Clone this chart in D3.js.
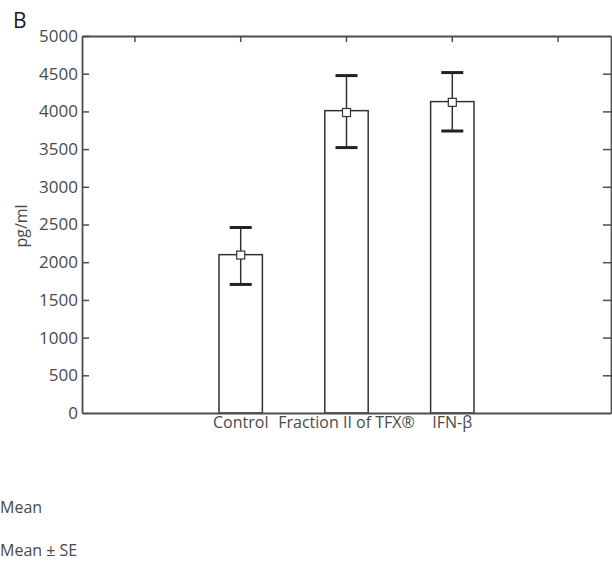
<!DOCTYPE html>
<html><head><meta charset="utf-8">
<script src="https://cdn.jsdelivr.net/npm/d3@7"></script>
<style>
body{margin:0;background:#fff;}
svg{display:block;}
text{font-family:"Open Sans","Noto Sans",sans-serif;fill:#4a4a4a;}
</style></head>
<body>
<svg id="chart" width="612" height="562"></svg>
<script>
const categories = ["Control", "Fraction II of TFX®", "IFN-β"];
const barValues = [2100, 4010, 4130];
const meanValues = [2095, 3985, 4120];
const seLow = [1705, 3520, 3740];
const seHigh = [2460, 4475, 4515];
const yTicks = [0, 500, 1000, 1500, 2000, 2500, 3000, 3500, 4000, 4500, 5000];
const legendLabels = ["Mean", "Mean ± SE"];

const svg = d3.select("#chart");
const L = 82, R = 611, T = 36, B = 413;
const slots = ["_a", ...categories, "_b"];
const x = d3.scaleBand().domain(slots).range([L, R]).padding(0);
const y = d3.scaleLinear().domain([0, 5000]).range([B, T]);
const axisColor = "#4d4d4d";

const bw = x.bandwidth() * 0.41;
const data = categories.map((c, i) => ({c, v: barValues[i], m: meanValues[i], lo: seLow[i], hi: seHigh[i]}));

// bars
svg.append("g").selectAll("rect").data(data).join("rect")
  .attr("x", d => x(d.c) + x.bandwidth()/2 - bw/2)
  .attr("y", d => y(d.v))
  .attr("width", bw)
  .attr("height", d => y(0) - y(d.v))
  .attr("fill", "#fff").attr("stroke", "#333").attr("stroke-width", 1.5);

// error bars
const eg = svg.append("g");
const cx = d => x(d.c) + x.bandwidth()/2;
eg.selectAll("line.v").data(data).join("line").attr("class","v")
  .attr("x1", cx).attr("x2", cx)
  .attr("y1", d => y(d.lo)).attr("y2", d => y(d.hi))
  .attr("stroke", "#333").attr("stroke-width", 1.5);
["lo","hi"].forEach(k => {
  eg.selectAll("line." + k).data(data).join("line").attr("class", k)
    .attr("x1", d => cx(d) - 11).attr("x2", d => cx(d) + 11)
    .attr("y1", d => y(d[k])).attr("y2", d => y(d[k]))
    .attr("stroke", "#222").attr("stroke-width", 3);
});
eg.selectAll("rect.m").data(data).join("rect").attr("class","m")
  .attr("x", d => cx(d) - 4).attr("y", d => y(d.m) - 4)
  .attr("width", 8).attr("height", 8)
  .attr("fill", "#fff").attr("stroke", "#333").attr("stroke-width", 1.2);

// axes
const styleAxis = (size) => g => {
  g.select(".domain").attr("stroke", axisColor).attr("stroke-width", 1.8);
  g.selectAll(".tick line").attr("stroke", axisColor).attr("stroke-width", 1.5);
  g.selectAll("text").attr("fill", "#4a4a4a").style("font-size", size + "px")
    .style("font-family", '"Open Sans","Noto Sans",sans-serif');
};
svg.append("g").attr("transform", `translate(${L},0)`)
  .call(d3.axisLeft(y).tickValues(yTicks).tickFormat(d3.format("d")).tickSizeInner(-7).tickSizeOuter(0).tickPadding(4))
  .call(styleAxis(17))
  .call(g => g.selectAll(".tick").filter(d => d === 0).select("line").remove());
svg.append("g").attr("transform", `translate(${R},0)`)
  .call(d3.axisRight(y).tickValues(yTicks).tickSizeInner(-8).tickSizeOuter(0).tickFormat(""))
  .call(styleAxis(16))
  .call(g => g.selectAll(".tick").filter(d => d === 0 || d === 5000).select("line").remove());
svg.append("g").attr("transform", `translate(0,${T})`)
  .call(d3.axisTop(x).tickSizeInner(-6).tickSizeOuter(0).tickFormat(""))
  .call(styleAxis(16));
svg.append("g").attr("transform", `translate(0,${B})`)
  .call(d3.axisBottom(x).tickSizeInner(0).tickSizeOuter(0).tickPadding(4)
    .tickFormat(d => categories.includes(d) ? d : ""))
  .call(styleAxis(16))
  .call(g => g.select(".domain").attr("stroke-width", 2.2));

// y label
svg.append("text").attr("transform", "translate(27,226) rotate(-90)")
  .attr("text-anchor", "middle").style("font-size", "16px").text("pg/ml");

// panel letter
svg.append("text").attr("x", 13).attr("y", 28).style("font-size", "21px")
  .style("fill", "#1a1a1a").text("B");

// legend labels
svg.selectAll("text.leg").data(legendLabels).join("text").attr("class", "leg")
  .attr("x", 0).attr("y", (d, i) => 513 + i * 43)
  .style("font-size", "16px").text(d => d);
</script>
</body></html>
